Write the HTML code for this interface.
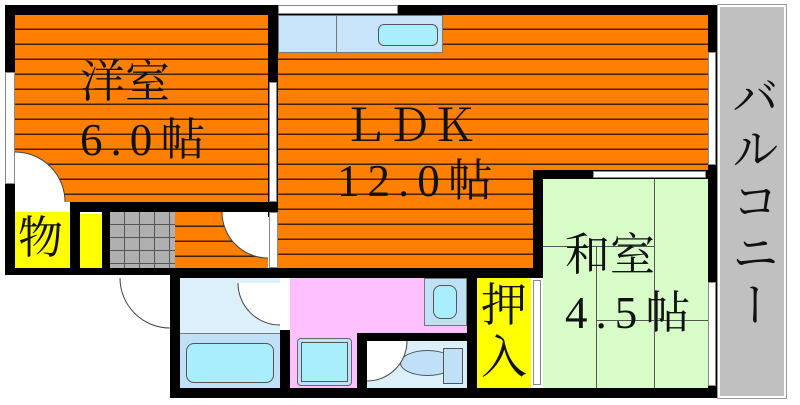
<!DOCTYPE html>
<html><head><meta charset="utf-8"><style>
body{margin:0;width:800px;height:405px;background:#fff;position:relative;overflow:hidden;font-family:"Liberation Serif","Noto Serif CJK SC","IPAGothic",serif}
div{position:absolute;box-sizing:border-box}
.b{background:#000}
.o{background:repeating-linear-gradient(to bottom,transparent 0,transparent 13.5px,#4a2000 13.5px,#4a2000 15px),#ff8000}
.t{color:#111;white-space:nowrap;line-height:1}
.n{letter-spacing:8px;font-size:45px}
.w{background:#fff;border:1px solid #888}
</style></head><body>
<div class="b" style="left:5px;top:5px;width:712px;height:10px"></div>
<div class="b" style="left:5px;top:5px;width:10px;height:270px"></div>
<div class="b" style="left:707px;top:5px;width:10px;height:393px"></div>
<div class="b" style="left:170px;top:388px;width:547px;height:10px"></div>
<div class="b" style="left:5px;top:265px;width:175px;height:10px"></div>
<div class="b" style="left:170px;top:265px;width:10px;height:133px"></div>
<div class="o" style="left:15px;top:15px;width:253px;height:187px"></div>
<div class="b" style="left:268px;top:5px;width:10px;height:212px"></div>
<div class="w" style="left:5px;top:72px;width:10px;height:112px"></div>
<div class="w" style="left:269px;top:82px;width:8px;height:120px"></div>
<div class="o" style="left:278px;top:15px;width:430px;height:253px"></div>
<div style="left:278px;top:15px;width:165px;height:38px;background:#c8e4fa;border:1px solid #777"></div>
<div style="left:336px;top:15px;width:1px;height:38px;background:#777"></div>
<div style="left:378px;top:24px;width:60px;height:22px;background:#a8eefc;border:1px solid #555;border-radius:6px"></div>
<div class="w" style="left:278px;top:5px;width:120px;height:9px"></div>
<div class="w" style="left:708px;top:52px;width:8px;height:113px"></div>
<div class="b" style="left:70px;top:202px;width:208px;height:10px"></div>
<div style="left:15px;top:212px;width:55px;height:56px;background:#ffff00"></div>
<div class="b" style="left:70px;top:202px;width:10px;height:70px"></div>
<div style="left:80px;top:214px;width:22px;height:54px;background:#ffff00"></div>
<div class="b" style="left:102px;top:202px;width:8px;height:70px"></div>
<div style="left:110px;top:212px;width:65px;height:56px;background:repeating-linear-gradient(to right,transparent 0,transparent 14px,#555 14px,#555 15px),repeating-linear-gradient(to bottom,transparent 0,transparent 12px,#555 12px,#555 13px),#b0b0b0"></div>
<div class="o" style="left:175px;top:212px;width:93px;height:56px"></div>
<div class="w" style="left:269px;top:212px;width:9px;height:56px"></div>
<div class="b" style="left:170px;top:268px;width:363px;height:10px"></div>
<div style="left:180px;top:278px;width:100px;height:110px;background:#dcf0fc"></div>
<div style="left:180px;top:333px;width:100px;height:55px;background:#c0e0f8;border-top:1px solid #777"></div>
<div style="left:186px;top:343px;width:88px;height:40px;background:#a8eefc;border:1px solid #555;border-radius:8px"></div>
<div class="b" style="left:280px;top:330px;width:10px;height:58px"></div>
<div style="left:290px;top:278px;width:177px;height:110px;background:#ffc0ff"></div>
<div style="left:424px;top:278px;width:43px;height:48px;background:#c0e0f8;border:1px solid #777"></div>
<div style="left:433px;top:285px;width:24px;height:34px;background:#a8eefc;border:1px solid #555;border-radius:8px"></div>
<div style="left:297px;top:338px;width:55px;height:48px;background:#c0e0f8;border:1px solid #666;border-radius:4px"></div>
<div style="left:301px;top:342px;width:47px;height:40px;background:#a8eefc;border:1px solid #555"></div>
<div class="b" style="left:357px;top:333px;width:10px;height:55px"></div>
<div class="b" style="left:367px;top:333px;width:100px;height:8px"></div>
<div style="left:367px;top:341px;width:100px;height:47px;background:#dcf0fc"></div>
<div style="left:400px;top:350px;width:55px;height:26px;background:#c0e0f8;border:1px solid #555;border-radius:50%"></div>
<div style="left:443px;top:348px;width:20px;height:36px;background:#c0e0f8;border:1px solid #555"></div>
<div class="b" style="left:467px;top:278px;width:10px;height:110px"></div>
<div style="left:477px;top:278px;width:54px;height:110px;background:#ffff00"></div>
<div class="b" style="left:533px;top:170px;width:10px;height:108px"></div>
<div class="b" style="left:533px;top:170px;width:175px;height:9px"></div>
<div class="w" style="left:593px;top:171px;width:113px;height:7px"></div>
<div style="left:543px;top:179px;width:165px;height:209px;background:#d8fcc8"></div>
<div style="left:654px;top:179px;width:1px;height:209px;background:#555"></div>
<div style="left:543px;top:246px;width:111px;height:1px;background:#555"></div>
<div style="left:596px;top:246px;width:1px;height:142px;background:#555"></div>
<div style="left:596px;top:320px;width:112px;height:1px;background:#555"></div>
<div class="w" style="left:533px;top:280px;width:8px;height:105px"></div>
<div class="w" style="left:708px;top:282px;width:8px;height:104px"></div>
<div style="left:718px;top:5px;width:68px;height:393px;background:#c0c0c0;border:2px solid #fff;outline:1px solid #999"></div>
<svg style="position:absolute;left:0;top:0" width="800" height="405">
<g fill="#fff" stroke="#444" stroke-width="1">
<path d="M15 202 L15 152 A50 50 0 0 1 65 202 Z" stroke="none"/>
<path d="M15 152 A50 50 0 0 1 65 202"/>
<rect x="15" y="202" width="55" height="10" fill="#fff" stroke="none"/>
<path d="M268 212 L222 212 A46 46 0 0 0 268 258 Z" stroke="none"/>
<path d="M222 212 A46 46 0 0 0 268 258"/>
<path d="M170 278 L120 278 A50 50 0 0 0 170 328 Z" stroke="none"/>
<path d="M120 278 A50 50 0 0 0 170 328"/>
<path d="M280 283 L238 283 A42 42 0 0 0 280 325 Z" stroke="none"/>
<path d="M238 283 A42 42 0 0 0 280 325"/>
<path d="M367 341 L407 341 A40 40 0 0 1 367 381 Z" stroke="none"/>
<path d="M407 341 A40 40 0 0 1 367 381"/>
</g>
</svg>
<div class="t" style="left:80px;top:60px;font-size:45px">洋室</div>
<div class="t n" style="left:80px;top:118px">6.0帖</div>
<div class="t" style="left:342px;top:104px;font-size:45px">ＬＤＫ</div>
<div class="t n" style="left:337px;top:159px">12.0帖</div>
<div class="t" style="left:565px;top:233px;font-size:45px">和室</div>
<div class="t n" style="left:565px;top:291px">4.5帖</div>
<div class="t" style="left:18px;top:216px;font-size:45px">物</div>
<div class="t" style="left:481px;top:280px;font-size:46px;line-height:52px;width:48px;white-space:normal">押入</div>
<div class="t" style="left:725px;top:72px;font-size:48px;line-height:54px;width:52px;letter-spacing:4px;white-space:normal;text-align:center;writing-mode:vertical-rl">バルコニー</div>
</body></html>
